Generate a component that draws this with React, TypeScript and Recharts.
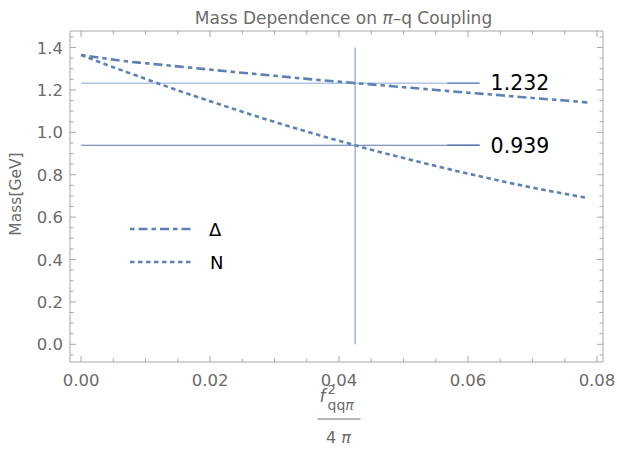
import { LineChart, Line, XAxis, YAxis, ReferenceLine, Legend } from "recharts"

// coupling f^2/(4 pi)
const coupling = [0, 0.005, 0.007, 0.01, 0.015, 0.02, 0.025, 0.03, 0.035, 0.04, 0.0425, 0.045, 0.05, 0.055, 0.06, 0.065, 0.07, 0.075, 0.0785]
const deltaMass = [1.365, 1.343, 1.335, 1.326, 1.311, 1.296, 1.281, 1.267, 1.252, 1.239, 1.232, 1.226, 1.213, 1.2, 1.187, 1.175, 1.162, 1.15, 1.141]
const nucleonMass = [1.365, 1.307, 1.285, 1.252, 1.198, 1.147, 1.097, 1.049, 1.004, 0.96, 0.939, 0.918, 0.879, 0.841, 0.805, 0.771, 0.739, 0.71, 0.69]

const physicalCoupling = 0.0425
const deltaPhysical = 1.232
const nucleonPhysical = 0.939

const xTicks = [0, 0.005, 0.01, 0.015, 0.02, 0.025, 0.03, 0.035, 0.04, 0.045, 0.05, 0.055, 0.06, 0.065, 0.07, 0.075, 0.08]
const xMajor = [0, 0.02, 0.04, 0.06, 0.08]
const yTicks = [-0.05, 0, 0.05, 0.1, 0.15, 0.2, 0.25, 0.3, 0.35, 0.4, 0.45, 0.5, 0.55, 0.6, 0.65, 0.7, 0.75, 0.8, 0.85, 0.9, 0.95, 1, 1.05, 1.1, 1.15, 1.2, 1.25, 1.3, 1.35, 1.4, 1.45]
const yMajor = [0, 0.2, 0.4, 0.6, 0.8, 1, 1.2, 1.4]

const data = coupling.map((x, i) => ({ x, delta: deltaMass[i], nucleon: nucleonMass[i] }))

const FONT = "DejaVu Sans"
const BLUE = "#5e81b5"
const FRAME = "#a8a8a8"
const GRAY = "#6b6b6b"
const X_DOMAIN = [-0.00171, 0.08093]
const Y_DOMAIN = [-0.0835, 1.478]

const isIn = (v: number, list: number[]) => list.some((m) => Math.abs(m - v) < 1e-9)

function makeTick(side: "bottom" | "top" | "left" | "right") {
  return (props: any) => {
    const { x, y, payload } = props
    const v = payload.value as number
    const major = side === "bottom" || side === "top" ? isIn(v, xMajor) : isIn(v, yMajor)
    const len = major ? 6 : 3.5
    if (side === "bottom") {
      return (
        <g>
          <line x1={x} x2={x} y1={y} y2={y - len} stroke={FRAME} />
          {major && (
            <text x={x} y={y + 24} textAnchor="middle" fontSize={16.5} fill={GRAY} fontFamily={FONT}>
              {v.toFixed(2)}
            </text>
          )}
        </g>
      )
    }
    if (side === "top") return <line x1={x} x2={x} y1={y} y2={y + len} stroke={FRAME} />
    if (side === "right") return <line x1={x} x2={x - len} y1={y} y2={y} stroke={FRAME} />
    return (
      <g>
        <line x1={x} x2={x + len} y1={y} y2={y} stroke={FRAME} />
        {major && (
          <text x={x - 7} y={y + 6} textAnchor="end" fontSize={16.5} fill={GRAY} fontFamily={FONT}>
            {v.toFixed(1)}
          </text>
        )}
      </g>
    )
  }
}

const XFraction = (props: any) => {
  const { viewBox } = props
  const cx = viewBox.x + viewBox.width / 2
  const top = viewBox.y
  return (
    <g fontFamily={FONT} fill={GRAY}>
      <text x={cx - 17} y={top + 40} fontSize={17} fontStyle="italic">f</text>
      <text x={cx - 9} y={top + 32} fontSize={13}>2</text>
      <text x={cx - 9} y={top + 48} fontSize={14}>qq<tspan fontStyle="italic">π</tspan></text>
      <line x1={cx - 19} x2={cx + 24} y1={top + 57} y2={top + 57} stroke={GRAY} strokeWidth={1} />
      <text x={cx + 2} y={top + 81} fontSize={16} textAnchor="middle">
        4 <tspan fontStyle="italic">π</tspan>
      </text>
    </g>
  )
}

const Title = (props: any) => {
  const { viewBox } = props
  const cx = viewBox.x + viewBox.width / 2
  return (
    <text x={cx + 7} y={viewBox.y - 6} textAnchor="middle" fontSize={17} fill={GRAY} fontFamily={FONT}>
      Mass Dependence on <tspan fontStyle="italic">π</tspan>–q Coupling
    </text>
  )
}

const YTitle = () => {
  const cy = 194
  return (
    <text x={21} y={cy} transform={`rotate(-90, 21, ${cy})`} textAnchor="middle" fontSize={15.5} fill={GRAY} fontFamily={FONT}>
      Mass[GeV]
    </text>
  )
}

const LegendBox = () => (
  <svg width={140} height={70} style={{ display: "block" }}>
    <line x1={10} x2={73} y1={19} y2={19} stroke={BLUE} strokeWidth={2.6} strokeDasharray="4.5 4 9 4" />
    <text x={89} y={25.5} fontSize={18} fontFamily={FONT} fill="#000">Δ</text>
    <line x1={10} x2={73} y1={52} y2={52} stroke={BLUE} strokeWidth={2.6} strokeDasharray="4.5 3.5" />
    <text x={90} y={58.5} fontSize={18} fontFamily={FONT} fill="#000">N</text>
  </svg>
)

const valueLabel = (value: string) => ({ value, position: "right" as const, fontSize: 20.5, fill: "#000", fontFamily: FONT, offset: 11 })

export default function App() {
  return (
    <div style={{ position: "absolute", left: 0, top: 0, width: 617, height: 455, background: "#fff" }}>
      <LineChart width={617} height={455} data={data} margin={{ top: 30, right: 13, bottom: 0, left: 0 }}>
        <XAxis
          dataKey="x"
          type="number"
          domain={X_DOMAIN}
          allowDataOverflow
          ticks={xTicks}
          interval={0}
          height={93}
          tickSize={0}
          tickMargin={0}
          stroke={FRAME}
          tick={makeTick("bottom")}
          label={<XFraction />}
        />
        <XAxis
          xAxisId="top"
          orientation="top"
          dataKey="x"
          type="number"
          domain={X_DOMAIN}
          allowDataOverflow
          ticks={xTicks}
          interval={0}
          height={1}
          tickSize={0}
          tickMargin={0}
          stroke={FRAME}
          tick={makeTick("top")}
          label={<Title />}
        />
        <YAxis
          type="number"
          domain={Y_DOMAIN}
          allowDataOverflow
          ticks={yTicks}
          interval={0}
          width={70}
          tickSize={0}
          tickMargin={0}
          stroke={FRAME}
          tick={makeTick("left")}
          label={<YTitle />}
        />
        <YAxis
          yAxisId="right"
          orientation="right"
          type="number"
          domain={Y_DOMAIN}
          allowDataOverflow
          ticks={yTicks}
          interval={0}
          width={1}
          tickSize={0}
          tickMargin={0}
          stroke={FRAME}
          tick={makeTick("right")}
        />
        <ReferenceLine
          segment={[{ x: 0, y: deltaPhysical }, { x: 0.0618, y: deltaPhysical }]}
          stroke="#8ba7da"
          strokeWidth={1}
          label={valueLabel("1.232")}
        />
        <ReferenceLine
          segment={[{ x: 0.0568, y: deltaPhysical }, { x: 0.0618, y: deltaPhysical }]}
          stroke="#6f8fcc"
          strokeWidth={1.5}
        />
        <ReferenceLine
          segment={[{ x: 0, y: nucleonPhysical }, { x: 0.0618, y: nucleonPhysical }]}
          stroke="#5a77b0"
          strokeWidth={1}
          label={valueLabel("0.939")}
        />
        <ReferenceLine
          segment={[{ x: 0.0568, y: nucleonPhysical }, { x: 0.0618, y: nucleonPhysical }]}
          stroke="#5a77b0"
          strokeWidth={1.5}
        />
        <ReferenceLine
          segment={[{ x: physicalCoupling, y: 0 }, { x: physicalCoupling, y: 1.4 }]}
          stroke="#6f8fd0"
          strokeWidth={1}
        />
        <Line
          dataKey="delta"
          type="monotone"
          stroke={BLUE}
          strokeWidth={2.6}
          strokeDasharray="4.5 4 9 4"
          dot={false}
          isAnimationActive={false}
        />
        <Line
          dataKey="nucleon"
          type="monotone"
          stroke={BLUE}
          strokeWidth={2.6}
          strokeDasharray="4.5 3.5"
          dot={false}
          isAnimationActive={false}
        />
        <Legend
          layout="vertical"
          align="center"
          verticalAlign="middle"
          content={<LegendBox />}
          wrapperStyle={{ left: 120, top: 210, width: 140, height: 70 }}
        />
      </LineChart>
    </div>
  )
}
